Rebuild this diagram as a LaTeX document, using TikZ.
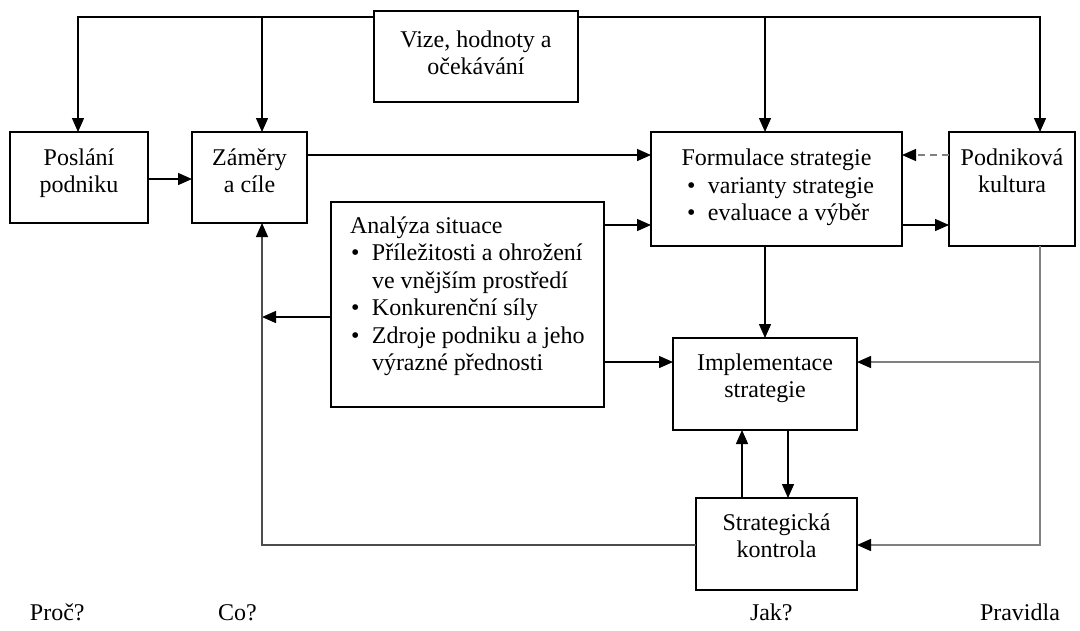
\documentclass[tikz,border=0pt]{standalone}
\usepackage{fontspec}
\setmainfont{Liberation Serif}
\newfontfamily\tnr{Liberation Serif}
\usetikzlibrary{arrows.meta}
\newcommand{\fsz}{\tnr\fontsize{24}{27.5}\selectfont}
\newcommand{\tl}[2][c]{\begin{tabular}[t]{@{}#1@{}}#2\end{tabular}}
\newcommand{\bul}{\makebox[22pt][l]{\hspace{1pt}\textbullet}}
\begin{document}
\begin{tikzpicture}[x=1pt,y=-1pt,
  box/.style={draw,line width=1.3pt,inner sep=0,outer sep=0},
  txt/.style={inner sep=0,outer sep=0,font=\fsz,anchor=base},
  txtl/.style={txt,anchor=base west},
  arr/.style={line width=1.4pt,line join=miter,-{Triangle[length=14pt,width=12pt,color=black]}},
  ln/.style={line width=1.4pt},
  gl/.style={draw=black!50},
]
\useasboundingbox (0,0) rectangle (1080,630);
% boxes
\node[box,minimum width=204pt,minimum height=91pt] (vize) at (476,56.5) {};
\node[box,minimum width=138pt,minimum height=91pt] (posl) at (79,177.5) {};
\node[box,minimum width=115pt,minimum height=91pt] (zam) at (249.5,177.5) {};
\node[box,minimum width=251pt,minimum height=114pt] (form) at (776.5,189) {};
\node[box,minimum width=126pt,minimum height=114pt] (podn) at (1012,189) {};
\node[box,minimum width=273pt,minimum height=205pt] (anal) at (467.5,304.5) {};
\node[box,minimum width=184pt,minimum height=92pt] (impl) at (765,384) {};
\node[box,minimum width=161pt,minimum height=92pt] (strat) at (776.5,544) {};
% texts
\node[txt] (vizet) at (476,47) {\tl{Vize, hodnoty a\\očekávání}};
\node[txt] (poslt) at (79,165) {\tl{Poslání\\podniku}};
\node[txt] (zamt) at (249.5,165) {\tl{Záměry\\a cíle}};
\node[txt] (formt) at (776.5,165) {Formulace strategie};
\node[txtl] (formi) at (686,193) {\tl[l]{\bul varianty strategie\\ \bul evaluace a výběr}};
\node[txt] (podnt) at (1012,165) {\tl{Podniková\\kultura}};
\node[txtl] (analt) at (350,233) {\tl[l]{Analýza situace\\
 \bul Příležitosti a ohrožení\\
 \makebox[22pt]{}ve vnějším prostředí\\
 \bul Konkurenční síly\\
 \bul Zdroje podniku a jeho\\
 \makebox[22pt]{}výrazné přednosti}};
\node[txt] (implt) at (765,370) {\tl{Implementace\\strategie}};
\node[txt] (stratt) at (776.5,530) {\tl{Strategická\\kontrola}};
\node[txtl] (q1) at (30,620) {Proč?};
\node[txtl] (q2) at (218,620) {Co?};
\node[txtl] (q3) at (750,620) {Jak?};
\node[txtl] (q4) at (980,620) {Pravidla};
% junction coordinates
\coordinate (jL) at (78,17);
\coordinate (jZ) at (262,17);
\coordinate (jF) at (765,17);
\coordinate (jR) at (1040,17);
\coordinate (aL) at (262,317);
% top distribution
\draw[arr] (vize.west |- jL) -- (jL) -- (jL |- posl.north);
\draw[arr] (jZ) -- (jZ |- zam.north);
\draw[arr] (vize.east |- jR) -- (jR) -- (jR |- podn.north);
\draw[arr] (jF) -- (jF |- form.north);
% horizontal flows
\draw[arr] (posl.east |- 0,179) -- (zam.west |- 0,179);
\draw[arr] (zam.east |- 0,155) -- (form.west |- 0,155);
\draw[arr] (anal.east |- 0,225) -- (form.west |- 0,225);
\draw[arr] (form.east |- 0,225) -- (podn.west |- 0,225);
\draw[arr,gl,dashed,dash pattern=on 7pt off 5pt] (podn.west |- 0,155) -- (form.east |- 0,155);
\draw[arr] (anal.west |- aL) -- (aL);
\draw[arr] (anal.east |- 0,362) -- (impl.west |- 0,362);
% vertical flows
\draw[arr] (form.south -| jF) -- (impl.north -| jF);
\draw[arr] (impl.south -| 788,0) -- (strat.north -| 788,0);
\draw[arr] (strat.north -| 742,0) -- (impl.south -| 742,0);
% right side
\draw[arr,gl] (podn.south -| jR) -- (jR |- 0,545) -- (strat.east |- 0,545);
\draw[arr,gl] (jR |- 0,362) -- (impl.east |- 0,362);
% feedback to goals
\draw[arr,draw=black!70] (strat.west |- 0,545) -- (jZ |- 0,545) -- (zam.south -| jZ);
\end{tikzpicture}
\end{document}
